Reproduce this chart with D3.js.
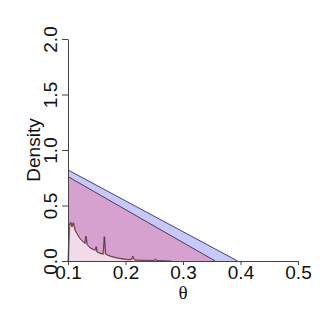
<!DOCTYPE html>
<html><head><meta charset="utf-8">
<script src="https://cdn.jsdelivr.net/npm/d3@7"></script>
<style>body{margin:0;background:#fff}svg{display:block}</style>
</head><body>
<script>
const xTicks = [0.1, 0.2, 0.3, 0.4, 0.5];
const yTicks = [0.0, 0.5, 1.0, 1.5, 2.0];
const blueTheta = [0.1, 0.395];
const blueDensity = [0.82, 0.0];
const pinkTheta = [0.1, 0.356];
const pinkDensity = [0.76, 0.0];
const noisyTheta = [0.1, 0.102, 0.1047, 0.1064, 0.109, 0.112, 0.115, 0.121, 0.127, 0.129, 0.131, 0.133, 0.138, 0.144, 0.147, 0.149, 0.15, 0.156, 0.161, 0.163, 0.165, 0.173, 0.182, 0.19, 0.202, 0.21, 0.2125, 0.215, 0.219, 0.237, 0.25, 0.252, 0.254, 0.265, 0.28];
const noisyDensity = [0.0, 0.32, 0.35, 0.31, 0.345, 0.28, 0.25, 0.2, 0.17, 0.16, 0.225, 0.15, 0.12, 0.105, 0.1, 0.13, 0.084, 0.07, 0.065, 0.22, 0.063, 0.045, 0.033, 0.024, 0.015, 0.014, 0.045, 0.012, 0.009, 0.006, 0.005, 0.02, 0.004, 0.003, 0.0];

const W = 320, H = 320;
const svg = d3.select("body").append("svg").attr("width", W).attr("height", H);
const x = d3.scaleLinear().domain([0.1, 0.5]).range([68, 298]);
const y = d3.scaleLinear().domain([0, 2]).range([261, 39]);

const area = d3.area().x(d => x(d[0])).y0(y(0)).y1(d => y(d[1]));
const line = d3.line().x(d => x(d[0])).y(d => y(d[1]));

const blue = blueTheta.map((t, i) => [t, blueDensity[i]]);
const pink = pinkTheta.map((t, i) => [t, pinkDensity[i]]);
const noisy = noisyTheta.map((t, i) => [t, noisyDensity[i]]);

svg.append("path").datum(blue).attr("d", area).attr("fill", "#c8c8f6");
svg.append("path").datum(blue).attr("d", line).attr("fill", "none").attr("stroke", "#45456e").attr("stroke-width", 1);
svg.append("path").datum(pink).attr("d", area).attr("fill", "#d6a0cf");
svg.append("path").datum(pink).attr("d", line).attr("fill", "none").attr("stroke", "#4a3a62").attr("stroke-width", 1);
svg.append("path").datum(noisy).attr("d", area).attr("fill", "#f1dbe6");
svg.append("path").datum(noisy).attr("d", line).attr("fill", "none").attr("stroke", "#c0504a").attr("stroke-width", 0.8).attr("transform", "translate(0.6,0.6)");
svg.append("path").datum(noisy).attr("d", line).attr("fill", "none").attr("stroke", "#4a3850").attr("stroke-width", 0.9);

const font = "'Liberation Sans', Arial, sans-serif";
// axes
const xa = svg.append("g").attr("transform", `translate(0,${y(0)})`)
  .call(d3.axisBottom(x).tickValues(xTicks).tickSize(4).tickSizeOuter(0).tickFormat(d3.format(".1f")));
xa.select(".domain").attr("stroke", "#444");
xa.selectAll(".tick line").attr("stroke", "#444");
xa.selectAll("text").attr("font-family", font).attr("font-size", 19).attr("fill", "#111").attr("dy", null).attr("y", 18);

const ya = svg.append("g").attr("transform", `translate(${x(0.1)},0)`)
  .call(d3.axisLeft(y).tickValues(yTicks).tickSize(6).tickSizeOuter(0).tickFormat(d3.format(".1f")));
ya.select(".domain").attr("stroke", "#444");
ya.selectAll(".tick line").attr("stroke", "#444");
ya.selectAll("text").attr("font-family", font).attr("font-size", 19).attr("fill", "#111")
  .attr("x", null).attr("dy", null).attr("text-anchor", "middle")
  .attr("transform", "translate(-11,0) rotate(-90)");

svg.append("text").attr("transform", `translate(40,${y(1)}) rotate(-90)`).attr("text-anchor", "middle")
  .attr("font-family", font).attr("font-size", 19).attr("fill", "#111").text("Density");
svg.append("text").attr("x", x(0.3)).attr("y", 299).attr("text-anchor", "middle")
  .attr("font-family", "'Liberation Serif', 'DejaVu Serif', serif").attr("font-size", 19).attr("fill", "#111").text("θ");
</script>
</body></html>
